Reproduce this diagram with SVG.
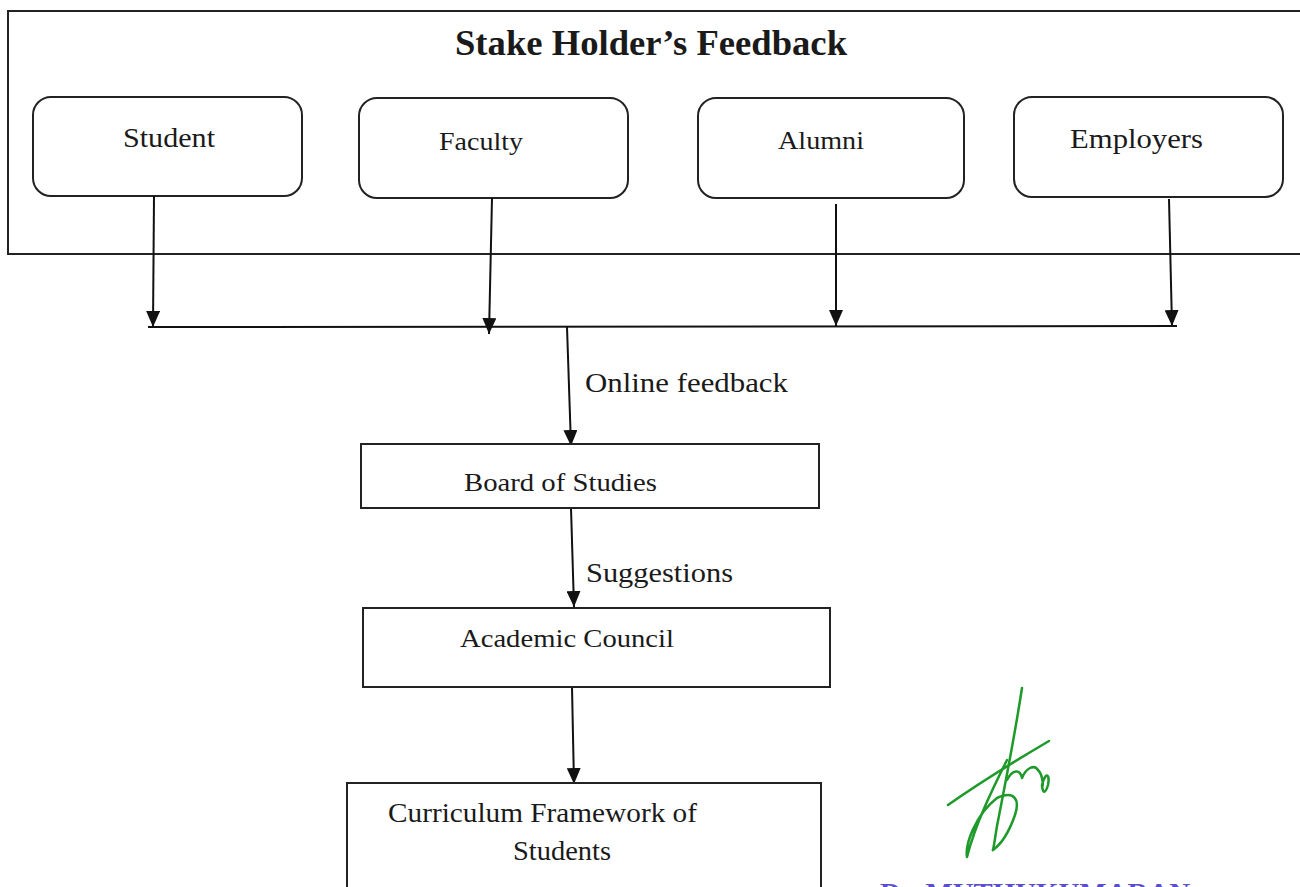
<svg xmlns="http://www.w3.org/2000/svg" width="1300" height="887" viewBox="0 0 1300 887">
<defs>
<style>
.box{fill:#fff;stroke:#222;stroke-width:2}
.ln{fill:none;stroke:#111;stroke-width:2}
.t{font-family:"Liberation Serif","Times New Roman",serif;fill:#1a1a1a}
.sig{fill:none;stroke:#1e9a2a;stroke-width:2.5;stroke-linecap:round;stroke-linejoin:round}
</style>
<marker id="arr" viewBox="0 0 16 14" refX="16" refY="7" markerWidth="16" markerHeight="14" markerUnits="userSpaceOnUse" orient="auto">
<path d="M0,0 L16,7 L0,14 Z" fill="#111"/>
</marker>
</defs>
<rect width="1300" height="887" fill="#fff"/>
<g id="frame">
<rect x="8" y="11" width="1310" height="243" class="box" fill="none"/>
<text x="455" y="55" class="t" font-size="35" font-weight="bold" textLength="392" lengthAdjust="spacingAndGlyphs">Stake Holder’s Feedback</text>
</g>
<g id="student"><rect x="33" y="97" width="269" height="99" rx="18" class="box"/><text x="123" y="147" class="t" font-size="28" textLength="92" lengthAdjust="spacingAndGlyphs">Student</text></g>
<g id="faculty"><rect x="359" y="98" width="269" height="100" rx="18" class="box"/><text x="439" y="150" class="t" font-size="26" textLength="84" lengthAdjust="spacingAndGlyphs">Faculty</text></g>
<g id="alumni"><rect x="698" y="98" width="266" height="100" rx="18" class="box"/><text x="778" y="149" class="t" font-size="26" textLength="86" lengthAdjust="spacingAndGlyphs">Alumni</text></g>
<g id="employers"><rect x="1014" y="97" width="269" height="100" rx="18" class="box"/><text x="1070" y="148" class="t" font-size="28" textLength="133" lengthAdjust="spacingAndGlyphs">Employers</text></g>
<g id="connectors">
<line x1="154" y1="196" x2="153" y2="327" class="ln" marker-end="url(#arr)"/>
<line x1="492" y1="198" x2="489" y2="334" class="ln" marker-end="url(#arr)"/>
<line x1="836" y1="204" x2="836" y2="326" class="ln" marker-end="url(#arr)"/>
<line x1="1169" y1="199" x2="1172" y2="326" class="ln" marker-end="url(#arr)"/>
<line x1="148" y1="327" x2="1177" y2="326" class="ln"/>
<line x1="567" y1="327" x2="571" y2="446" class="ln" marker-end="url(#arr)"/>
<line x1="571" y1="508" x2="574" y2="607" class="ln" marker-end="url(#arr)"/>
<line x1="572" y1="687" x2="574" y2="784" class="ln" marker-end="url(#arr)"/>
<text x="585" y="392" class="t" font-size="28" textLength="203" lengthAdjust="spacingAndGlyphs">Online feedback</text>
<text x="586" y="582" class="t" font-size="28" textLength="147" lengthAdjust="spacingAndGlyphs">Suggestions</text>
</g>
<g id="board"><rect x="361" y="444" width="458" height="64" class="box"/><text x="464" y="491" class="t" font-size="26" textLength="193" lengthAdjust="spacingAndGlyphs">Board of Studies</text></g>
<g id="council"><rect x="363" y="608" width="467" height="79" class="box"/><text x="460" y="647" class="t" font-size="26" textLength="214" lengthAdjust="spacingAndGlyphs">Academic Council</text></g>
<g id="curriculum"><rect x="347" y="783" width="474" height="120" class="box"/><text x="388" y="822" class="t" font-size="27" textLength="309" lengthAdjust="spacingAndGlyphs">Curriculum  Framework of</text><text x="513" y="860" class="t" font-size="27" textLength="98" lengthAdjust="spacingAndGlyphs">Students</text></g>
<g id="signature">
<path class="sig" d="M1022,688 C1014,740 1004,790 997,826 C995,838 994,846 993,850"/>
<path class="sig" d="M948,805 C975,786 1010,764 1049,741"/>
<path class="sig" d="M1007,760 C992,790 975,825 967,857 C965,845 975,815 997,798 C1015,790 1020,800 1015,815 C1008,835 1000,845 993,850"/>
<path class="sig" d="M1007,780 C1012,770 1020,768 1022,778 C1026,768 1034,764 1038,770 C1044,776 1043,790 1042,785 C1046,770 1050,775 1048,785 C1046,792 1043,795 1042,786"/>
</g>
<text x="880" y="902" font-family="Liberation Serif,serif" font-size="28" font-weight="bold" fill="#5a4fc8" textLength="310" lengthAdjust="spacingAndGlyphs">Dr. MUTHUKUMARAN</text>
</svg>
